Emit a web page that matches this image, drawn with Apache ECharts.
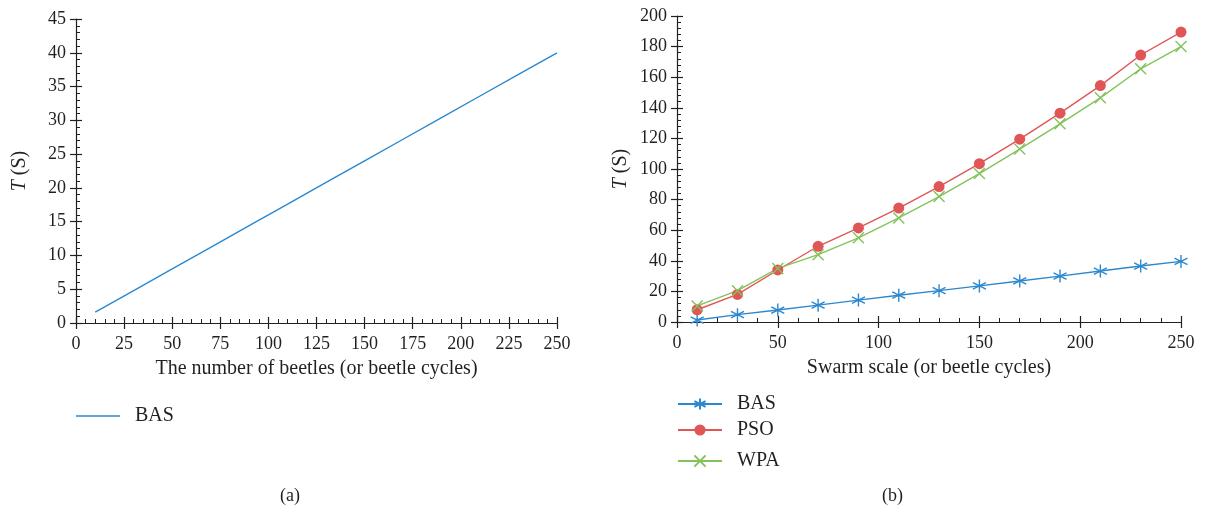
<!DOCTYPE html>
<html>
<head>
<meta charset="utf-8">
<script src="https://cdn.jsdelivr.net/npm/echarts@6/dist/echarts.min.js"></script>
<style>
  html, body { margin: 0; padding: 0; background: #fff; }
  #chart { width: 1205px; height: 514px; }
</style>
</head>
<body>
<div id="chart"></div>
<script>
// ── Data ──────────────────────────────────────────────────────────────────
const scaleX = [10, 30, 50, 70, 90, 110, 130, 150, 170, 190, 210, 230, 250];
const basLeft = [1.6, 4.8, 8.0, 11.2, 14.4, 17.6, 20.8, 24.0, 27.2, 30.4, 33.6, 36.8, 40.0];
const basRight = [1.3, 4.8, 7.8, 11, 14.3, 17.5, 20.5, 23.6, 26.8, 30, 33.3, 36.6, 39.6];
const psoRight = [8, 18, 34, 49.5, 61.5, 74.5, 88.5, 103.5, 119.5, 136.5, 154.5, 174.5, 189.5];
const wpaRight = [10.5, 20.5, 35, 44, 55, 68, 82, 97, 113, 129.5, 146.5, 165.5, 180];

const FONT = '"Liberation Serif", "DejaVu Serif", serif';
const INK = '#231f20';
const BLUE = '#2b88cf';
const RED = '#e05656';
const GREEN = '#84c25c';

// symbols drawn as strokes
const ASTERISK = 'path://M0,-6L0,6M-5.2,-3L5.2,3M-5.2,3L5.2,-3';
const CROSS = 'path://M-5,-5L5,5M-5,5L5,-5';

const pairs = arr => scaleX.map((x, i) => [x, arr[i]]);

// ── Axis helpers ──────────────────────────────────────────────────────────
function mainAxis(grid, min, max, interval, extra) {
  return Object.assign({
    type: 'value', gridIndex: grid, min, max, interval,
    axisLine: { show: true, lineStyle: { color: INK, width: 1.2 } },
    axisTick: { show: true, inside: true, length: 6, lineStyle: { color: INK, width: 1.2 } },
    minorTick: { show: true, splitNumber: 5, length: 4, lineStyle: { color: INK, width: 1 } },
    splitLine: { show: false },
  }, extra);
}

// outside half of the major ticks
function tickAxis(grid, min, max, interval, position) {
  return {
    type: 'value', gridIndex: grid, min, max, interval, position,
    axisLine: { show: false },
    axisTick: { show: true, inside: false, length: 6, lineStyle: { color: INK, width: 1.2 } },
    axisLabel: { show: false },
    splitLine: { show: false },
  };
}

const tickLabel = margin => ({ color: INK, fontFamily: FONT, fontSize: 18, margin });
const nameStyle = { color: INK, fontFamily: FONT, fontSize: 20 };

const yName = {
  name: '{i|T} (S)',
  nameLocation: 'middle',
  nameGap: 46,
  nameTextStyle: {
    color: INK, fontFamily: FONT, fontSize: 20,
    rich: { i: { fontStyle: 'italic', fontFamily: FONT, fontSize: 20, color: INK } },
  },
};

function legendAt(item, left, top, itemHeight = 14) {
  return {
    data: [item], left, top, itemWidth: 44, itemHeight,
    textStyle: { color: INK, fontFamily: FONT, fontSize: 20, padding: [0, 0, 0, 10] },
  };
}

const capStyle = { color: INK, fontFamily: FONT, fontSize: 18, fontWeight: 'normal' };

// ── Chart ─────────────────────────────────────────────────────────────────
const chart = echarts.init(document.getElementById('chart'));

chart.setOption({
  animation: false,
  textStyle: { fontFamily: FONT },
  title: [
    { text: '(a)', left: 275, top: 482, textStyle: capStyle },
    { text: '(b)', left: 877, top: 482, textStyle: capStyle },
  ],
  grid: [
    { left: 76, right: 648, top: 19, bottom: 191 },
    { left: 677, right: 24, top: 16, bottom: 192 },
  ],
  xAxis: [
    mainAxis(0, 0, 250, 25, {
      axisLabel: tickLabel(12),
      name: 'The number of beetles (or beetle cycles)', nameLocation: 'middle', nameGap: 36,
      nameTextStyle: nameStyle,
    }),
    tickAxis(0, 0, 250, 25, 'bottom'),
    mainAxis(1, 0, 250, 50, {
      axisLabel: tickLabel(12),
      name: 'Swarm scale (or beetle cycles)', nameLocation: 'middle', nameGap: 36,
      nameTextStyle: nameStyle,
    }),
    tickAxis(1, 0, 250, 50, 'bottom'),
  ],
  yAxis: [
    mainAxis(0, 0, 45, 5, Object.assign({ axisLabel: tickLabel(10) }, yName)),
    tickAxis(0, 0, 45, 5, 'left'),
    mainAxis(1, 0, 200, 20, Object.assign({ axisLabel: tickLabel(10) }, yName)),
    tickAxis(1, 0, 200, 20, 'left'),
  ],
  legend: [
    legendAt({ name: 'BAS ', icon: 'rect' }, 71, 401, 1.4),
    legendAt('BAS', 672, 389),
    legendAt('PSO', 672, 415),
    legendAt('WPA', 672, 446),
  ],
  series: [
    {
      name: 'BAS ', type: 'line', xAxisIndex: 0, yAxisIndex: 0,
      data: pairs(basLeft), symbol: 'none',
      lineStyle: { color: BLUE, width: 1.4 }, itemStyle: { color: BLUE },
    },
    {
      name: 'BAS', type: 'line', xAxisIndex: 2, yAxisIndex: 2,
      data: pairs(basRight), symbol: ASTERISK, symbolSize: 13,
      lineStyle: { color: BLUE, width: 1.4 },
      itemStyle: { color: BLUE, borderColor: BLUE, borderWidth: 1.4 },
    },
    {
      name: 'PSO', type: 'line', xAxisIndex: 2, yAxisIndex: 2,
      data: pairs(psoRight), symbol: 'circle', symbolSize: 11,
      lineStyle: { color: RED, width: 1.4 }, itemStyle: { color: RED },
    },
    {
      name: 'WPA', type: 'line', xAxisIndex: 2, yAxisIndex: 2,
      data: pairs(wpaRight), symbol: CROSS, symbolSize: 11,
      lineStyle: { color: GREEN, width: 1.4 },
      itemStyle: { color: GREEN, borderColor: GREEN, borderWidth: 1.4 },
    },
  ],
});
</script>
</body>
</html>
